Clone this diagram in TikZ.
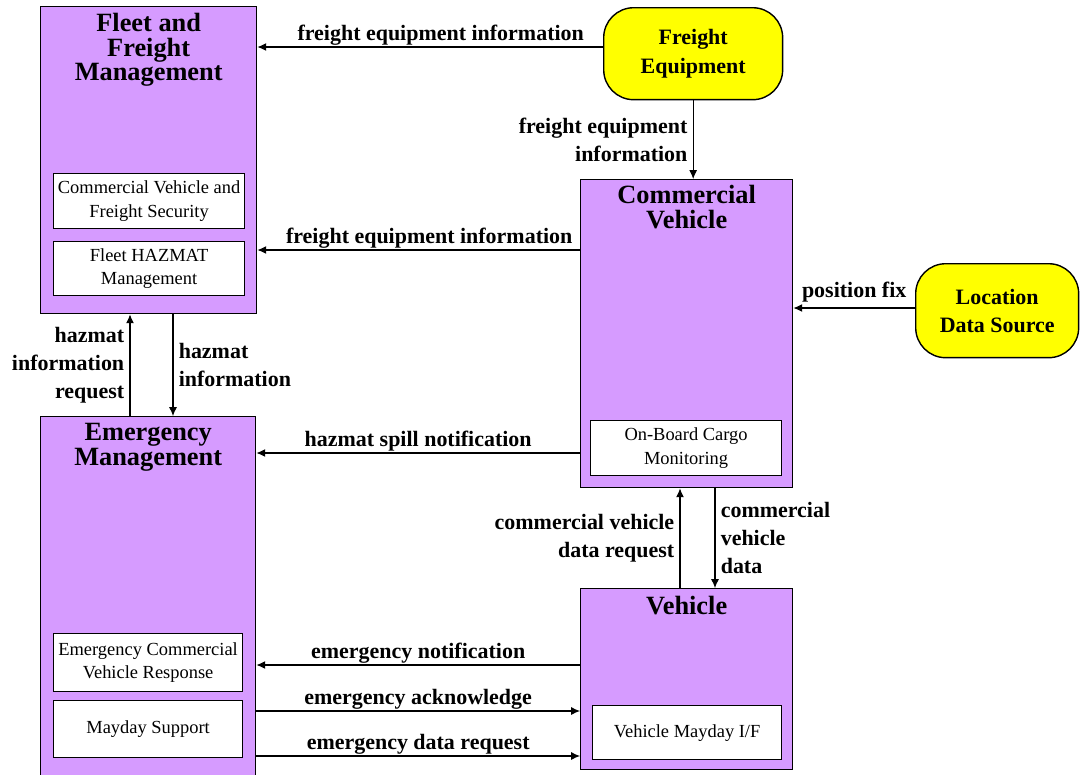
\documentclass[tikz,border=0pt]{standalone}
\usepackage{fontspec}
\setmainfont{Liberation Serif}
\usepackage{tikz}
\usetikzlibrary{arrows.meta, positioning, calc}
\definecolor{sysviolet}{RGB}{214,155,255}
\definecolor{termyellow}{RGB}{255,255,0}

\begin{document}
\begin{tikzpicture}[
				x=0.02cm, y=-0.02cm,
				system/.style={rectangle, draw=black, fill=sysviolet, line width=0.8pt,
					inner sep=0pt, anchor=north west},
				title/.style={font=\fontsize{15}{14}\selectfont\bfseries, align=center,
					anchor=north, inner sep=0pt},
				package/.style={rectangle, draw=black, fill=white, line width=0.7pt, inner sep=0pt,
					anchor=north west, align=center, font=\fontsize{10.5}{13.5}\selectfont},
				terminator/.style={rectangle, rounded corners=0.6cm, draw=black, fill=termyellow,
					line width=0.8pt, inner sep=0pt, anchor=north west, align=center,
					font=\fontsize{12.5}{16}\selectfont\bfseries},
				flow/.style={-{Latex[length=5pt,width=4.5pt]}, line width=0.6pt, color=black},
				flabel/.style={font=\fontsize{12.5}{16}\selectfont\bfseries, inner sep=3pt}
				]
				\useasboundingbox (0,0) rectangle (1080,775);
				
				% Nodes
				\node[system, minimum width=4.32cm, minimum height=6.14cm] (ffm) at (40,6) {};
				\node[title] (ffmtitle) at ($(ffm.north)+(0,7)$) {Fleet and\\Freight\\Management};
				\node[package, minimum width=3.82cm, minimum height=1.1cm] (cvfs) at (53,173) {Commercial Vehicle and\\Freight Security};
				\node[package, minimum width=3.82cm, minimum height=1.08cm] (fhm) at (53,241) {Fleet HAZMAT\\Management};
				
				\node[system, minimum width=4.3cm, minimum height=7.3cm] (em) at (40,416) {};
				\node[title] (emtitle) at ($(em.north)+(0,7)$) {Emergency\\Management};
				\node[package, minimum width=3.78cm, minimum height=1.16cm] (ecvr) at (53,633) {Emergency Commercial\\Vehicle Response};
				\node[package, minimum width=3.78cm, minimum height=1.14cm] (mds) at (53,700) {Mayday Support};
				
				\node[terminator, minimum width=3.58cm, minimum height=1.84cm] (fe) at (603,7) {Freight\\Equipment};
				\node[terminator, minimum width=3.26cm, minimum height=1.88cm] (lds) at (915,263) {Location\\Data Source};
				
				\node[system, minimum width=4.24cm, minimum height=6.16cm] (cv) at (580,179) {};
				\node[title] (cvtitle) at ($(cv.north)+(0,6)$) {Commercial\\Vehicle};
				\node[package, minimum width=3.82cm, minimum height=1.1cm] (obcm) at (590,420) {On-Board Cargo\\Monitoring};
				
				\node[system, minimum width=4.24cm, minimum height=3.62cm] (veh) at (580,588) {};
				\node[title] (vehtitle) at ($(veh.north)+(0,8)$) {Vehicle};
				\node[package, minimum width=3.78cm, minimum height=1.08cm] (vmif) at (592,705) {Vehicle Mayday I/F};
				
				% Arrows
				\draw[flow] (fe.west |- 0,47) -- (ffm.east |- 0,47) node[midway, above=-2.5pt, flabel, xshift=6pt] {freight equipment information};
				\draw[flow] (fe.south) -- (fe.south |- cv.north) node[midway, left, flabel, align=right] {freight equipment\\information};
				\draw[flow] (cv.west |- 0,250) -- (ffm.east |- 0,250) node[midway, above=-2.5pt, flabel, xshift=6pt] {freight equipment information};
				\draw[flow] (lds.west |- 0,308) -- (cv.east |- 0,308) node[midway, above, flabel] {position fix};
				
				\draw[flow] (ffm.south -| 173,0) -- (em.north -| 173,0) node[midway, right, flabel, align=left] {hazmat\\information};
				\draw[flow] (em.north -| 130,0) -- (ffm.south -| 130,0) node[midway, left, flabel, align=right] {hazmat\\information\\request};
				
				\draw[flow] (cv.west |- 0,453) -- (em.east |- 0,453) node[midway, above=-2.5pt, flabel] {hazmat spill notification};
				
				\draw[flow] (veh.north -| 680,0) -- (cv.south -| 680,0) node[midway, left, flabel, align=right] {commercial vehicle\\data request};
				\draw[flow] (cv.south -| 715,0) -- (veh.north -| 715,0) node[midway, right, flabel, align=left] {commercial\\vehicle\\data};
				
				\draw[flow] (veh.west |- 0,665) -- (em.east |- 0,665) node[midway, above=-2.5pt, flabel] {emergency notification};
				\draw[flow] (em.east |- 0,711) -- (veh.west |- 0,711) node[midway, above=-2.5pt, flabel] {emergency acknowledge};
				\draw[flow] (em.east |- 0,756) -- (veh.west |- 0,756) node[midway, above=-2.5pt, flabel] {emergency data request};
				
			\end{tikzpicture}
\end{document}
